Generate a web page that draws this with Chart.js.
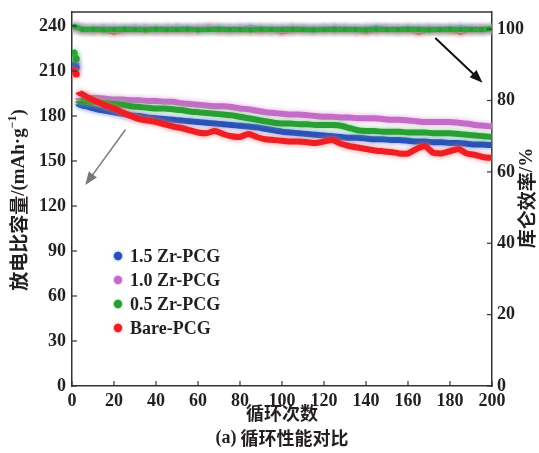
<!DOCTYPE html>
<html><head><meta charset="utf-8">
<script src="https://cdn.jsdelivr.net/npm/chart.js@4/dist/chart.umd.min.js"></script>
<style>html,body{margin:0;padding:0;background:#fff}#wrap{width:539px;height:453px;position:relative}</style>
</head><body><div id="wrap"><canvas id="c" width="539" height="453"></canvas></div>
<script>
// ---- data ----
const capCycles = [1,2,3,5,8,12,16,20,24,28,32,36,40,44,48,52,56,60,64,68,72,76,80,84,88,92,96,100,104,108,112,116,120,124,128,132,136,140,144,148,152,156,160,164,168,172,176,180,184,188,192,196,200];
const capZr15 = [214,212,188,187, 186,184.5,183.5,182.5,181.5,180.5,180,179,178.5,178, 177.5,177,176.5,176,175.5,175,174.5,174,173.5,173, 172.5,171.5,170.5,169.5,169,168.5,168,167.5,167,166.5, 166,165.5,165.5,165,164.5,164.5,164,164,163.5,163, 163,162.5,162.5,162,162,161.5,161,161,160.5];
const capZr10 = [216,214,192,192, 192,192,191.5,191,191,190.5,190.5,190,190,189.5, 189.5,188.5,188,187.5,187,186.5,186.5,186,185,184.5, 183.5,182.5,182,181.5,181,181,180.5,180,179.5,179.5, 179,179,178.5,178.5,178.5,178,177.5,177.5,177,176.5, 176,176,176,176,175.5,175,174,173.5,173];
const capZr05 = [222,218,190,190, 189.5,189,188.5,188,187.5,186.5,186,185.5,185,185, 184.5,184,183,182.5,182,181.5,181,180.5,179.5,178.5, 177.5,176.5,175.5,175,175,174.5,174.5,174,174,174, 173.5,172,170.5,170,170,169.5,169.5,169.5,169,169, 169,168.5,168.5,168.5,168,167.5,167,166.5,166];
const capBare = [210,208,196,194.5, 192,189.5,187,185,182.5,180,178,177,176,174.5, 173,172,170.5,169,168.5,170,168,166.5,166,168, 166,164.5,164,163.5,163,163,162.5,162,163,164, 161.5,160,159,158,157,156.5,156,155,155,158, 160,155.5,155,156.5,158,155,154,152.5,152];

const effCycles = [1,5,10,15,20,25,30,35,40,45,50,55,60,65,70,75,80,85,90,95,100,105,110,115,120,125,130,135,140,145,150,155,160,165,170,175,180,185,190,195,200];
const effZr15 = [100.6,100.1,100.0,100.2,100.1,100.0,100.2,100.1,100.0,100.1,100.2,100.1,100.0,100.1,100.2,100.0,100.1,100.3,100.1,100.0,100.1,100.2,100.1,100.0,100.1,100.2,100.1,100.0,100.1,100.3,100.1,100.0,100.1,100.2,100.1,100.0,100.1,100.3,100.1,100.0,100.2];
const effZr10 = [100.4,100.0,99.9,100.0,100.1,99.9,100.0,100.1,99.9,100.0,100.0,99.9,100.1,100.0,99.9,100.0,100.1,99.9,100.0,100.0,99.9,100.1,100.0,99.9,100.0,100.1,99.9,100.0,100.0,99.9,100.1,100.0,99.9,100.0,100.1,99.9,100.0,100.0,99.9,100.1,100.0];
const effZr05 = [100.8,99.9,100.0,99.8,99.9,100.0,99.9,99.8,100.0,99.9,99.9,100.0,99.8,99.9,100.0,99.9,99.9,99.8,100.0,99.9,99.9,100.0,99.9,99.8,99.9,100.0,99.9,99.9,99.8,100.0,99.9,99.9,100.0,99.9,99.8,99.9,100.0,99.9,99.9,99.9,100.1];
const effBare = [100.5,99.8,99.7,99.7,99.2,99.7,99.8,99.7,99.8,99.7,99.8,99.7,99.8,100.3,99.8,99.7,99.8,99.7,99.6,99.8,99.3,99.7,99.8,99.7,99.8,99.7,99.8,99.7,99.4,99.7,99.8,99.7,99.8,99.2,99.7,99.8,99.7,99.2,99.8,99.7,99.9];

const seriesNames = ['1.5 Zr-PCG','1.0 Zr-PCG','0.5 Zr-PCG','Bare-PCG'];
const xTicks = [0,20,40,60,80,100,120,140,160,180,200];
const leftTicks = [0,30,60,90,120,150,180,210,240];
const rightTicks = [0,20,40,60,80,100];

// ---- styles ----
const colors = ['rgb(40,82,185)','rgb(196,108,200)','rgb(40,158,52)','rgb(236,32,36)'];
const halos  = ['rgba(90,130,230,0.9)','rgba(225,160,225,0.9)','rgba(110,205,110,0.9)','rgba(250,110,110,0.9)'];
const drawOrder = [2,3,1,0];
const effOrder = [6,5,4,7];
const SERIF = '"Liberation Serif", "DejaVu Serif", serif';
const CJK = '"Noto Sans CJK SC", sans-serif';

const pts = (xs, ys) => xs.map((x, i) => ({x, y: ys[i]}));
const capSets = [capZr15, capZr10, capZr05, capBare];
const effSets = [effZr15, effZr10, effZr05, effBare];

const datasets = [];
capSets.forEach((vals, i) => datasets.push({
  label: seriesNames[i], data: pts(capCycles, vals), yAxisID: 'y',
  borderColor: colors[i], backgroundColor: colors[i], borderWidth: 6,
  pointRadius: ctx => ctx.dataIndex < 2 ? 3.5 : 0, pointBorderWidth: 0,
  tension: 0.15, order: drawOrder[i], halo: halos[i],
  segment: { borderColor: c => (c.p0.parsed.y - c.p1.parsed.y > 10) ? 'rgba(0,0,0,0)' : undefined }
}));
effSets.forEach((vals, i) => datasets.push({
  label: 'eff ' + seriesNames[i], data: pts(effCycles, vals), yAxisID: 'y1',
  borderColor: colors[i], backgroundColor: colors[i], borderWidth: 5,
  pointRadius: 2.6, pointBorderWidth: 0, tension: 0, order: effOrder[i], halo: halos[i]
}));

function drawRuns(ctx, runs, cx, cy, rot) {
  ctx.save();
  ctx.translate(cx, cy);
  if (rot) ctx.rotate(rot);
  let total = 0;
  runs.forEach(r => { ctx.font = r.font; r.w = ctx.measureText(r.t).width; total += r.w; });
  let x = -total / 2;
  ctx.textBaseline = 'middle'; ctx.textAlign = 'left'; ctx.fillStyle = '#231f20';
  runs.forEach(r => { ctx.font = r.font; ctx.fillText(r.t, x, r.dy || 0); x += r.w; });
  ctx.restore();
}

function arrow(ctx, x0, y0, x1, y1, color, lw, hl, hw) {
  const a = Math.atan2(y1 - y0, x1 - x0);
  ctx.save();
  ctx.strokeStyle = color; ctx.fillStyle = color; ctx.lineWidth = lw;
  ctx.beginPath(); ctx.moveTo(x0, y0);
  ctx.lineTo(x1 - hl * 0.8 * Math.cos(a), y1 - hl * 0.8 * Math.sin(a)); ctx.stroke();
  ctx.beginPath(); ctx.moveTo(x1, y1);
  ctx.lineTo(x1 - hl * Math.cos(a) + hw * Math.sin(a), y1 - hl * Math.sin(a) - hw * Math.cos(a));
  ctx.lineTo(x1 - hl * Math.cos(a) - hw * Math.sin(a), y1 - hl * Math.sin(a) + hw * Math.cos(a));
  ctx.closePath(); ctx.fill();
  ctx.restore();
}

const decor = {
  id: 'decor',
  beforeDatasetDraw(chart, args) {
    const ds = chart.data.datasets[args.index];
    const ctx = chart.ctx;
    ctx.save();
    ctx.shadowColor = ds.halo; ctx.shadowBlur = 5;
  },
  afterDatasetDraw(chart) { chart.ctx.restore(); },
  afterDraw(chart) {
    const ctx = chart.ctx, a = chart.chartArea;
    const sx = chart.scales.x, sy = chart.scales.y, sy1 = chart.scales.y1;
    ctx.save();
    ctx.strokeStyle = '#333'; ctx.lineWidth = 1.5;
    ctx.beginPath(); ctx.moveTo(a.left, a.top); ctx.lineTo(a.right, a.top); ctx.stroke();
    ctx.lineWidth = 1.2;
    xTicks.forEach(v => { const p = sx.getPixelForValue(v); ctx.beginPath(); ctx.moveTo(p, a.bottom); ctx.lineTo(p, a.bottom - 5); ctx.stroke(); });
    leftTicks.forEach(v => { const p = sy.getPixelForValue(v); ctx.beginPath(); ctx.moveTo(a.left, p); ctx.lineTo(a.left + 5, p); ctx.stroke(); });
    rightTicks.forEach(v => { const p = sy1.getPixelForValue(v); ctx.beginPath(); ctx.moveTo(a.right, p); ctx.lineTo(a.right - 5, p); ctx.stroke(); });
    ctx.restore();

    arrow(ctx, sx.getPixelForValue(25.5), sy.getPixelForValue(171), sx.getPixelForValue(6.3), sy.getPixelForValue(134), '#777', 1.4, 13, 5);
    arrow(ctx, sx.getPixelForValue(173), sy1.getPixelForValue(97.5), sx.getPixelForValue(195.5), sy1.getPixelForValue(85), '#111', 2, 13, 5);

    const cx = (a.left + a.right) / 2;
    drawRuns(ctx, [{t: '循环次数', font: `bold 18px ${CJK}`}], cx, 413, 0);
    drawRuns(ctx, [{t: '(a)', font: `bold 18px ${SERIF}`}, {t: ' 循环性能对比', font: `bold 18px ${CJK}`}], cx, 438, 0);
    drawRuns(ctx, [
      {t: '放电比容量', font: `bold 19px ${CJK}`},
      {t: '/(mAh·g', font: `bold 19px ${SERIF}`},
      {t: '−1', font: `bold 12px ${SERIF}`, dy: -6},
      {t: ')', font: `bold 19px ${SERIF}`}
    ], 19, 200, -Math.PI / 2);
    drawRuns(ctx, [
      {t: '库仑效率', font: `bold 19px ${CJK}`},
      {t: '/%', font: `bold 19px ${SERIF}`}
    ], 527, 198, -Math.PI / 2);

    const ly = [256, 280, 304, 328];
    seriesNames.forEach((n, i) => {
      ctx.save();
      ctx.shadowColor = halos[i]; ctx.shadowBlur = 3;
      ctx.fillStyle = colors[i];
      ctx.beginPath(); ctx.arc(118, ly[i], 4.2, 0, Math.PI * 2); ctx.fill();
      ctx.restore();
      ctx.save();
      ctx.font = `bold 18px ${SERIF}`; ctx.fillStyle = '#231f20';
      ctx.textBaseline = 'middle'; ctx.textAlign = 'left';
      ctx.fillText(n, 130, ly[i] + 1);
      ctx.restore();
    });
  }
};

const tickFont = { family: SERIF, size: 18, weight: 'bold' };
const fixV = w => s => { s.width = w; s.paddingTop = 0; s.paddingBottom = 0; };
new Chart(document.getElementById('c'), {
  type: 'line',
  data: { datasets },
  plugins: [decor],
  options: {
    responsive: false, animation: false,
    layout: { padding: { top: 12, left: 0, right: 0, bottom: 0 } },
    plugins: { legend: { display: false }, tooltip: { enabled: false }, title: { display: false } },
    scales: {
      x: {
        type: 'linear', min: 0, max: 200,
        afterBuildTicks: s => { s.ticks = xTicks.map(v => ({value: v})); },
        ticks: { font: tickFont, color: '#231f20', padding: 5, maxRotation: 0 },
        grid: { display: false, drawTicks: false },
        border: { display: true, color: '#333', width: 1.5 },
        afterFit: s => { s.height = 67; s.paddingLeft = 0; s.paddingRight = 0; }
      },
      y: {
        position: 'left', min: 0, max: 249.33,
        afterBuildTicks: s => { s.ticks = leftTicks.map(v => ({value: v})); },
        ticks: { font: tickFont, color: '#231f20', padding: 6 },
        grid: { display: false, drawTicks: false },
        border: { display: true, color: '#333', width: 1.5 },
        afterFit: fixV(72)
      },
      y1: {
        position: 'right', min: 0, max: 104.8,
        afterBuildTicks: s => { s.ticks = rightTicks.map(v => ({value: v})); },
        ticks: { font: tickFont, color: '#231f20', padding: 5 },
        grid: { display: false, drawTicks: false },
        border: { display: true, color: '#333', width: 1.5 },
        afterFit: fixV(47)
      }
    }
  }
});
</script></body></html>
